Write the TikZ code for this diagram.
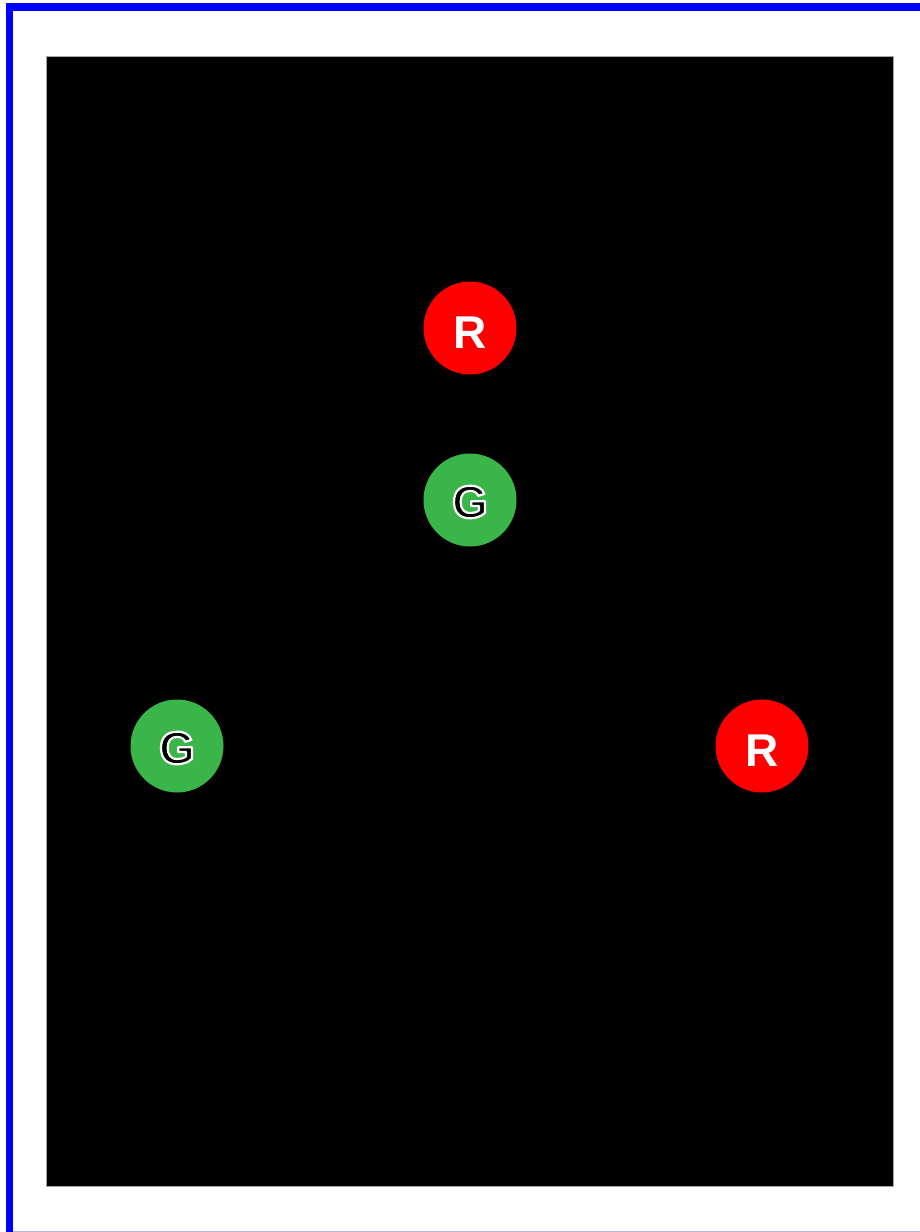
\documentclass[tikz,border=0pt]{standalone}
\usepackage{fontspec}
\setmainfont{Liberation Sans}
\usetikzlibrary{calc}
\definecolor{gr}{RGB}{57,181,74}
\definecolor{lb}{RGB}{180,180,245}
\newcommand{\outlined}[1]{\special{pdf:literal direct 1 1 1 RG 2.2 w 1 j 2 Tr}#1\special{pdf:literal direct 0 Tr}}
\tikzset{
  disc/.style={circle, minimum size=93pt, inner sep=0pt},
  rdisc/.style={disc, fill=red},
  gdisc/.style={disc, fill=gr},
  rl/.style={inner sep=0pt, text=white, font=\bfseries\fontsize{46}{46}\selectfont},
  gl/.style={inner sep=0pt, text=black, font=\bfseries\fontsize{46}{46}\selectfont}
}
\begin{document}
\begin{tikzpicture}[x=1pt,y=-1pt]
\useasboundingbox (0,0) rectangle (920,1232);
\fill[white] (0,0) rectangle (920,1232);
\fill[blue] (6,3) rectangle (920,11);
\fill[blue] (6,3) rectangle (13,1232);
\fill[lb] (13,1230.5) rectangle (920,1232);
\filldraw[black, draw=gray!70, line width=0.8pt] (46,56) rectangle (893,1186);
\node[rdisc] (r1) at (470,328) {};
\node[gdisc] (g1) at (470,500) {};
\node[gdisc] (g2) at (177,746) {};
\node[rdisc] (r2) at (762,746) {};
\node[rl] (r1t) at ($(r1)+(0,5)$) {R};
\node[rl] (r2t) at ($(r2)+(0,5)$) {R};
\node[gl] (g1t) at ($(g1)+(0,2)$) {\outlined{G}};
\node[gl] (g2t) at ($(g2)+(0,2)$) {\outlined{G}};
\end{tikzpicture}
\end{document}
